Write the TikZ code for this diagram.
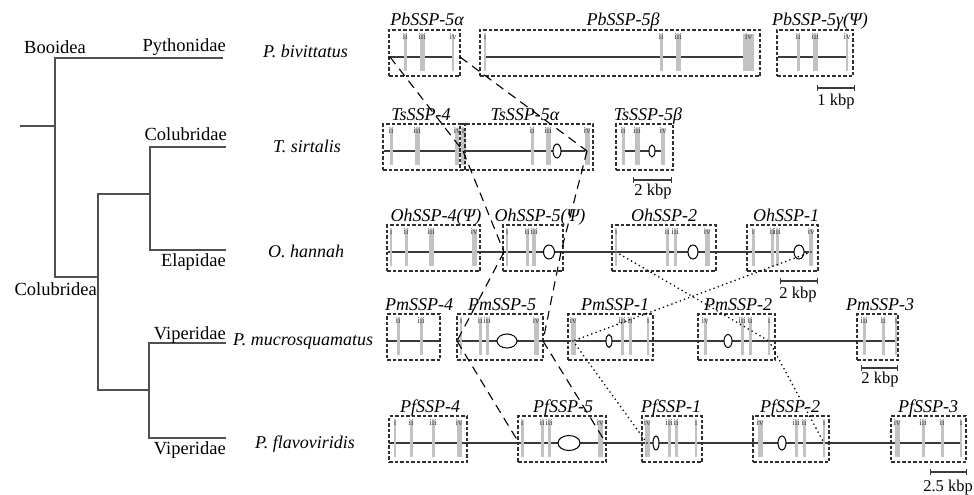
\documentclass[tikz,border=0pt]{standalone}
\usepackage{fontspec}
\setmainfont{Liberation Serif}
\usepackage{tikz}
\usetikzlibrary{
  positioning, arrows.meta, shapes.geometric, fit, calc
}
\definecolor{treegray}{HTML}{505050}
\definecolor{chromgray}{HTML}{3A3A3A}
\definecolor{exongray}{HTML}{C2C2C2}
\definecolor{boxgray}{HTML}{303030}
\definecolor{numgray}{HTML}{444444}

\begin{document}
\begin{tikzpicture}[
  x=1pt, y=-1pt,
  branch/.style={draw=treegray, line width=1.5pt},
  chrom/.style={draw=chromgray, line width=1.3pt},
  exon/.style={fill=exongray},
  intron/.style={draw=black, fill=white, line width=1pt},
  gbox/.style={draw=boxgray, line width=1.3pt, dash pattern=on 3.5pt off 2pt, inner sep=0pt},
  glab/.style={font=\fontsize{18}{19}\selectfont\itshape, anchor=base, inner sep=0pt},
  taxon/.style={font=\fontsize{18.5}{19}\selectfont, inner sep=0pt},
  species/.style={font=\fontsize{18}{19}\selectfont\itshape, anchor=base west, inner sep=0pt},
  numlab/.style={font=\fontsize{9}{9}\selectfont, text=numgray, inner sep=0pt},
  kbp/.style={font=\fontsize{16.5}{17}\selectfont, anchor=base, inner sep=0pt},
  scalebar/.style={draw=chromgray, line width=1.4pt, {Bar[width=6pt]}-{Bar[width=6pt]}},
  ortho/.style={line width=1.1pt, dash pattern=on 9pt off 6pt},
  para/.style={line width=1.8pt, line cap=round, dash pattern=on 0pt off 4.5pt},
]
\useasboundingbox (0,0) rectangle (974,495);

% Tree
\draw[branch] (20,126) -- (55,126);
\draw[branch] (223,58) -- (55,58) -- (55,277) -- (98,277);
\draw[branch] (226,147) -- (150,147) -- (150,250) -- (226,250);
\draw[branch] (150,194) -- (98,194) -- (98,390) -- (149,390);
\draw[branch] (226,343) -- (149,343) -- (149,438) -- (226,438);

\node[taxon, anchor=base] (booidea) at (55,54) {Booidea};
\node[taxon, anchor=base east] (pythonidae) at (226,52) {Pythonidae};
\node[taxon, anchor=base east] (colubridae) at (227,140) {Colubridae};
\node[taxon, anchor=base east] (elapidae) at (226,266) {Elapidae};
\node[taxon, anchor=base east] (colubridea) at (97,295) {Colubridea};
\node[taxon, anchor=base east] (viperidae-a) at (226,339) {Viperidae};
\node[taxon, anchor=base east] (viperidae-b) at (226,454) {Viperidae};

% Species
\node[species] (pbi) at (263,57) {P. bivittatus};
\node[species] (tsi) at (273,152) {T. sirtalis};
\node[species] (oha) at (268,257) {O. hannah};
\node[species] (pmu) at (233,345) {P. mucrosquamatus};
\node[species] (pfl) at (255,448) {P. flavoviridis};

% Row 1 - P. bivittatus
\draw[chrom] (390,57) -- (453,57);
\draw[chrom] (485,57) -- (748,57);
\draw[chrom] (778,57) -- (847,57);
\foreach \g/\x/\w/\nm in {pb5a/405/3/ii, pb5a/422/5/iii, pb5a/453/2/iv,
    pb5b/485/2/i, pb5b/661/3/ii, pb5b/678/5/iii, pb5b/748.5/11/iv,
    pb5g/798/3/ii, pb5g/815/5/iii, pb5g/847/2/iv} {
  \fill[exon] (\x-\w/2,34) rectangle (\x+\w/2,71);
  \node[numlab] (\g-\nm-t) at (\x,37) {\nm};
  \coordinate (\g-\nm) at (\x,57);
}
\node[gbox, fit={(389,30) (460,76)}] (pb5a) {};
\node[gbox, fit={(480,30) (760,76)}] (pb5b) {};
\node[gbox, fit={(777,30) (853,76)}] (pb5g) {};
\node[glab] (pb5a-name) at (427,26) {PbSSP-5α};
\node[glab] (pb5b-name) at (623,26) {PbSSP-5β};
\node[glab] (pb5g-name) at (820,26) {PbSSP-5γ(Ψ)};
\draw[scalebar] (817,88) -- (855,88);
\node[kbp] (pb-kbp) at (836,105) {1 kbp};
\coordinate (pb5a-l) at (390,57);
\coordinate (pb5a-r) at (460,57);

% Row 2 - T. sirtalis
\draw[chrom] (384,151) -- (588,151);
\draw[chrom] (623,151) -- (663,151);
\foreach \g/\x/\w/\nm in {ts4/391/3/ii, ts4/417/5/iii, ts4/457/4/iv,
    ts5a/463/5/i, ts5a/532/3/ii, ts5a/548/5/iii, ts5a/587/5/iv,
    ts5b/623/3/ii, ts5b/637/5/iii, ts5b/663/4/iv} {
  \fill[exon] (\x-\w/2,128) rectangle (\x+\w/2,165);
  \node[numlab] (\g-\nm-t) at (\x,131) {\nm};
  \coordinate (\g-\nm) at (\x,151);
}
\draw[intron] (557,151) ellipse [x radius=4, y radius=7];
\draw[intron] (652,151) ellipse [x radius=3, y radius=6];
\node[gbox, fit={(383,124) (465,170)}] (ts4) {};
\node[gbox, fit={(460,124) (593,170)}] (ts5a) {};
\node[gbox, fit={(616,124) (673,170)}] (ts5b) {};
\node[glab] (ts4-name) at (421,120) {TsSSP-4};
\node[glab] (ts5a-name) at (525,120) {TsSSP-5α};
\node[glab] (ts5b-name) at (648,120) {TsSSP-5β};
\draw[scalebar] (633,180) -- (672,180);
\node[kbp] (ts-kbp) at (653,195) {2 kbp};

% Row 3 - O. hannah
\draw[chrom] (388,252) -- (811,252);
\foreach \g/\x/\w/\nm in {oh4/391/2/i, oh4/406/3/ii, oh4/431/5/iii, oh4/474/5/iv,
    oh5/507/2/i, oh5/527/3/ii, oh5/534/4/iii,
    oh2/616/2/i, oh2/667/3/ii, oh2/675/3/iii, oh2/707/5/iv,
    oh1/753/3/i, oh1/772/3/ii, oh1/777/3/iii, oh1/811/4/iv} {
  \fill[exon] (\x-\w/2,229) rectangle (\x+\w/2,266);
  \node[numlab] (\g-\nm-t) at (\x,232) {\nm};
  \coordinate (\g-\nm) at (\x,252);
}
\draw[intron] (549,252) ellipse [x radius=5.5, y radius=7];
\draw[intron] (693,252) ellipse [x radius=5, y radius=7];
\draw[intron] (799,252) ellipse [x radius=5, y radius=7];
\node[gbox, fit={(387,225) (480,271)}] (oh4) {};
\node[gbox, fit={(503,225) (563,271)}] (oh5) {};
\node[gbox, fit={(612,225) (716,271)}] (oh2) {};
\node[gbox, fit={(747,225) (818,271)}] (oh1) {};
\node[glab] (oh4-name) at (436,221) {OhSSP-4(Ψ)};
\node[glab] (oh5-name) at (540,221) {OhSSP-5(Ψ)};
\node[glab] (oh2-name) at (664,221) {OhSSP-2};
\node[glab] (oh1-name) at (786,221) {OhSSP-1};
\draw[scalebar] (780,281) -- (818,281);
\node[kbp] (oh-kbp) at (798,298) {2 kbp};
\coordinate (oh5-l) at (504,252);
\coordinate (oh5-r) at (561,252);

% Row 4 - P. mucrosquamatus
\draw[chrom] (388,341) -- (440,341);
\draw[chrom] (457,341) -- (897,341);
\foreach \g/\x/\w/\nm in {pm4/398/3/ii, pm4/421/3/iii,
    pm5/461/2/i, pm5/480/3/ii, pm5/487/3/iii, pm5/536/5/iv,
    pm1/573/5/iv, pm1/622/3/iii, pm1/630/3/ii, pm1/648/2/i,
    pm2/705/3/iv, pm2/742/3/iii, pm2/750/3/ii, pm2/769/2/i,
    pm3/864/3/iii, pm3/883/3/ii, pm3/896/2/i} {
  \fill[exon] (\x-\w/2,318) rectangle (\x+\w/2,355);
  \node[numlab] (\g-\nm-t) at (\x,321) {\nm};
  \coordinate (\g-\nm) at (\x,341);
}
\draw[intron] (507,341) ellipse [x radius=10, y radius=7];
\draw[intron] (609,341) ellipse [x radius=3, y radius=6.5];
\draw[intron] (728,341) ellipse [x radius=4, y radius=6.5];
\node[gbox, fit={(387,314) (440,360)}] (pm4) {};
\node[gbox, fit={(457,314) (543,360)}] (pm5) {};
\node[gbox, fit={(568,314) (653,360)}] (pm1) {};
\node[gbox, fit={(698,314) (775,360)}] (pm2) {};
\node[gbox, fit={(857,314) (898,360)}] (pm3) {};
\node[glab] (pm4-name) at (419,310) {PmSSP-4};
\node[glab] (pm5-name) at (502,310) {PmSSP-5};
\node[glab] (pm1-name) at (615,310) {PmSSP-1};
\node[glab] (pm2-name) at (738,310) {PmSSP-2};
\node[glab] (pm3-name) at (880,310) {PmSSP-3};
\draw[scalebar] (861,368) -- (898,368);
\node[kbp] (pm-kbp) at (880,383) {2 kbp};
\coordinate (pm-l) at (457,341);
\coordinate (pm5-r) at (543,341);

% Row 5 - P. flavoviridis
\draw[chrom] (389,443) -- (962,443);
\foreach \g/\x/\w/\nm in {pf4/395/2/i, pf4/411/3/ii, pf4/433/3/iii, pf4/459/5/iv,
    pf5/522/3/i, pf5/542/3/ii, pf5/549/3/iii, pf5/600/5/iv,
    pf1/647/5/iv, pf1/669/3/iii, pf1/676/3/ii, pf1/696/2/i,
    pf2/760/5/iv, pf2/796/3/iii, pf2/804/3/ii, pf2/824/2/i,
    pf3/897/5/iv, pf3/923/3/iii, pf3/942/3/ii, pf3/961/2/i} {
  \fill[exon] (\x-\w/2,420) rectangle (\x+\w/2,457);
  \node[numlab] (\g-\nm-t) at (\x,423) {\nm};
  \coordinate (\g-\nm) at (\x,443);
}
\draw[intron] (569,443) ellipse [x radius=11, y radius=7.5];
\draw[intron] (656,443) ellipse [x radius=3, y radius=7];
\draw[intron] (782,443) ellipse [x radius=4, y radius=7];
\node[gbox, fit={(389,416) (467,462)}] (pf4) {};
\node[gbox, fit={(518,416) (606,462)}] (pf5) {};
\node[gbox, fit={(642,416) (702,462)}] (pf1) {};
\node[gbox, fit={(753,416) (829,462)}] (pf2) {};
\node[gbox, fit={(891,416) (966,462)}] (pf3) {};
\node[glab] (pf4-name) at (430,412) {PfSSP-4};
\node[glab] (pf5-name) at (563,412) {PfSSP-5};
\node[glab] (pf1-name) at (671,412) {PfSSP-1};
\node[glab] (pf2-name) at (790,412) {PfSSP-2};
\node[glab] (pf3-name) at (928,412) {PfSSP-3};
\draw[scalebar] (930,472) -- (967,472);
\node[kbp, anchor=base east] (pf-kbp) at (973,491) {2.5 kbp};
\coordinate (pf5-l) at (519,443);
\coordinate (pf5-r) at (606,443);

% Orthologous links
\draw[ortho] (pb5a-l) -- (ts5a-i);
\draw[ortho] (pb5a-r) -- (ts5a-iv);
\draw[ortho] (ts5a-i) -- (oh5-l);
\draw[ortho] (ts5a-iv) -- (oh5-r);
\draw[ortho] (oh5-l) -- (pm-l);
\draw[ortho] (oh5-r) -- (pm5-r);
\draw[ortho] (pm-l) -- (pf5-l);
\draw[ortho] (pm5-r) -- (pf5-r);

% Paralogous links
\draw[para] (oh2-i) -- (pm2-i);
\draw[para] (oh1-iv) -- (pm1-iv);
\draw[para] (pm1-iv) -- (pf1-iv);
\draw[para] (pm2-i) -- (pf2-i);

\end{tikzpicture}
\end{document}
